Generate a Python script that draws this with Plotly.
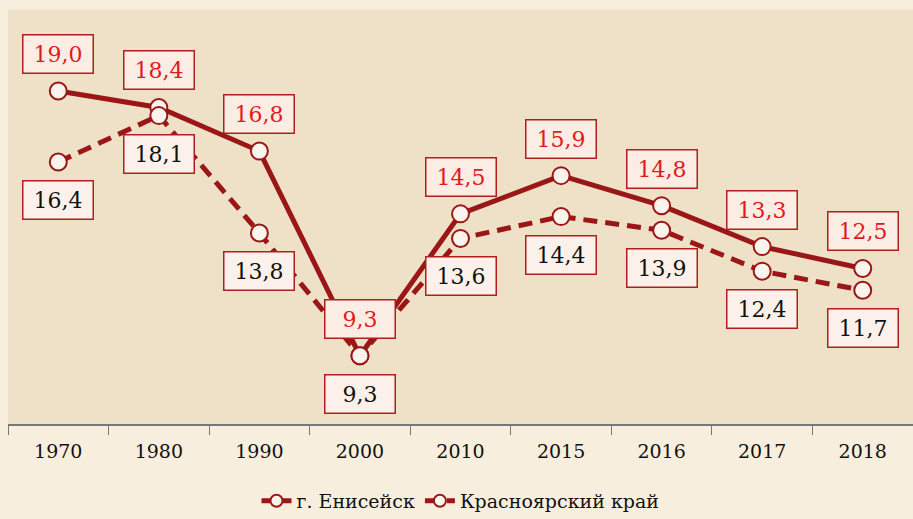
import plotly.graph_objects as go

years = ['1970', '1980', '1990', '2000', '2010', '2015', '2016', '2017', '2018']
eniseysk = [19.0, 18.4, 16.8, 9.3, 14.5, 15.9, 14.8, 13.3, 12.5]
krasnoyarsk = [16.4, 18.1, 13.8, 9.3, 13.6, 14.4, 13.9, 12.4, 11.7]

line_col = '#9b1616'
serif = 'DejaVu Serif, Liberation Serif, serif'

fig = go.Figure()
fig.add_trace(go.Scatter(
    x=years, y=eniseysk, name='г. Енисейск', mode='lines+markers',
    line=dict(color=line_col, width=5),
    marker=dict(size=17, color='#fbf4ec', line=dict(color=line_col, width=2))
))
fig.add_trace(go.Scatter(
    x=years, y=krasnoyarsk, name='Красноярский край', mode='lines+markers',
    line=dict(color=line_col, width=5, dash='14px,8px'),
    marker=dict(size=17, color='#fbf4ec', line=dict(color=line_col, width=2))
))

def fmt(v):
    return f'{v:.1f}'.replace('.', ',')

# category positions by index so the annotation lands on the category
for i, v in enumerate(eniseysk):
    fig.add_annotation(x=i, y=v, xref='x', yref='y', text=fmt(v), showarrow=False, yshift=37,
                       width=57, font=dict(family=serif, size=22, color='#e01b1b'),
                       bgcolor='#fbece4', bordercolor='#b01e1e', borderwidth=1.5, borderpad=6)
for i, v in enumerate(krasnoyarsk):
    fig.add_annotation(x=i, y=v, xref='x', yref='y', text=fmt(v), showarrow=False, yshift=-38,
                       width=57, font=dict(family=serif, size=22, color='#111111'),
                       bgcolor='#fbf1ea', bordercolor='#b01e1e', borderwidth=1.5, borderpad=6)

fig.update_layout(
    width=913, height=519,
    margin=dict(l=8, r=0, t=10, b=95, autoexpand=False),
    paper_bgcolor='#f8eedd', plot_bgcolor='#efe1c8',
    font=dict(family=serif, size=19, color='#111111'),
    showlegend=True,
    legend=dict(orientation='h', x=0.5, xanchor='center', y=-0.14, yanchor='top',
                itemsizing='constant', font=dict(size=19), bgcolor='rgba(0,0,0,0)'),
    xaxis=dict(type='category', range=[-0.5, 8.5], tickson='boundaries',
               ticks='outside', ticklen=9, tickcolor='#777777', showline=True,
               linecolor='#777777', linewidth=1.5, showgrid=False, zeroline=False,
               ticklabelstandoff=9, tickfont=dict(family=serif, size=19)),
    yaxis=dict(range=[6.8, 21.97], visible=False, showgrid=False, zeroline=False),
)

fig.write_html('out.html', config={'displayModeBar': False},
               post_script="document.body.style.margin='0';document.body.style.background='#f8eedd';")
